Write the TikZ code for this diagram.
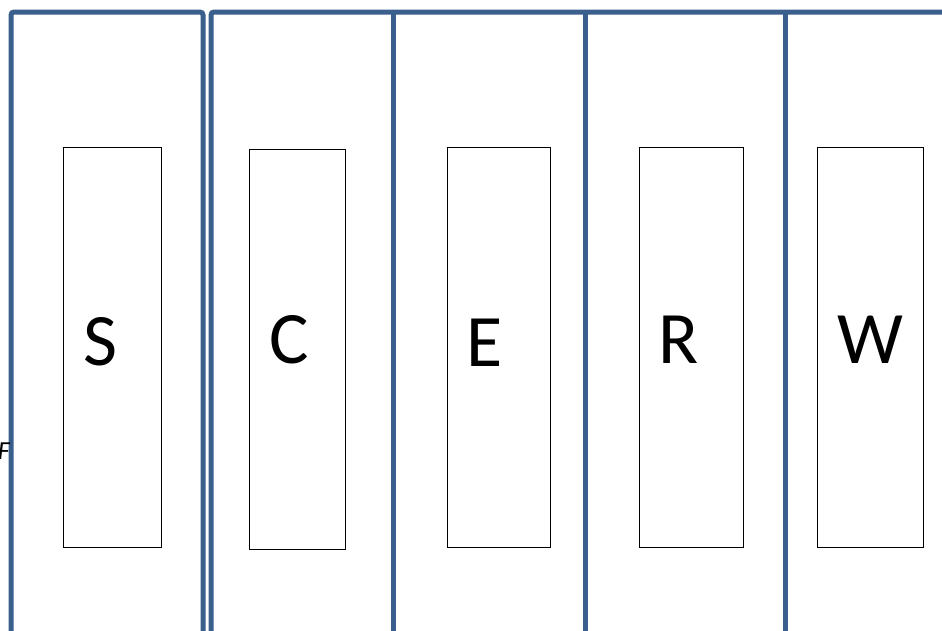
\documentclass[tikz,border=0pt]{standalone}
\usepackage{fontspec}
\setmainfont{Carlito}
\definecolor{frameblue}{RGB}{58,95,140}
\begin{document}
\begin{tikzpicture}[x=1pt,y=-1pt,
  frame/.style={draw=frameblue,line width=5pt,rounded corners=3pt},
  divider/.style={draw=frameblue,line width=5pt},
  lane/.style={draw=black,line width=0.8pt},
  letter/.style={font=\fontsize{74}{80}\selectfont,inner sep=0pt}]
\useasboundingbox (0,0) rectangle (942,630);
\clip (0,0) rectangle (942,630);
\fill[white] (0,0) rectangle (942,630);
% frames
\draw[frame] (11,660) -- (11,12) -- (203,12) -- (203,660);
\draw[frame] (211,660) -- (211,12) -- (960,12);
\coordinate (d1t) at (393,12); \coordinate (d1b) at (393,660);
\coordinate (d2t) at (585,12); \coordinate (d2b) at (585,660);
\coordinate (d3t) at (785,12); \coordinate (d3b) at (785,660);
\draw[divider] (d1t) -- (d1b);
\draw[divider] (d2t) -- (d2b);
\draw[divider] (d3t) -- (d3b);
% lanes
\draw[lane] (63,147) rectangle (161,547);
\draw[lane] (249,149) rectangle (345,549);
\draw[lane] (447,147) rectangle (550,547);
\draw[lane] (639,147) rectangle (743,547);
\draw[lane] (817,147) rectangle (923,547);
% letters
\node[letter] (s) at (100,342) {S};
\node[letter] (c) at (289,340) {C};
\node[letter] (e) at (485,343) {E};
\node[letter] (r) at (679,340) {R};
\node[letter] (w) at (870,340) {W};
\node[font=\fontsize{26}{28}\selectfont\itshape,inner sep=0pt,anchor=east] (f) at (10,451) {F};
\end{tikzpicture}
\end{document}
